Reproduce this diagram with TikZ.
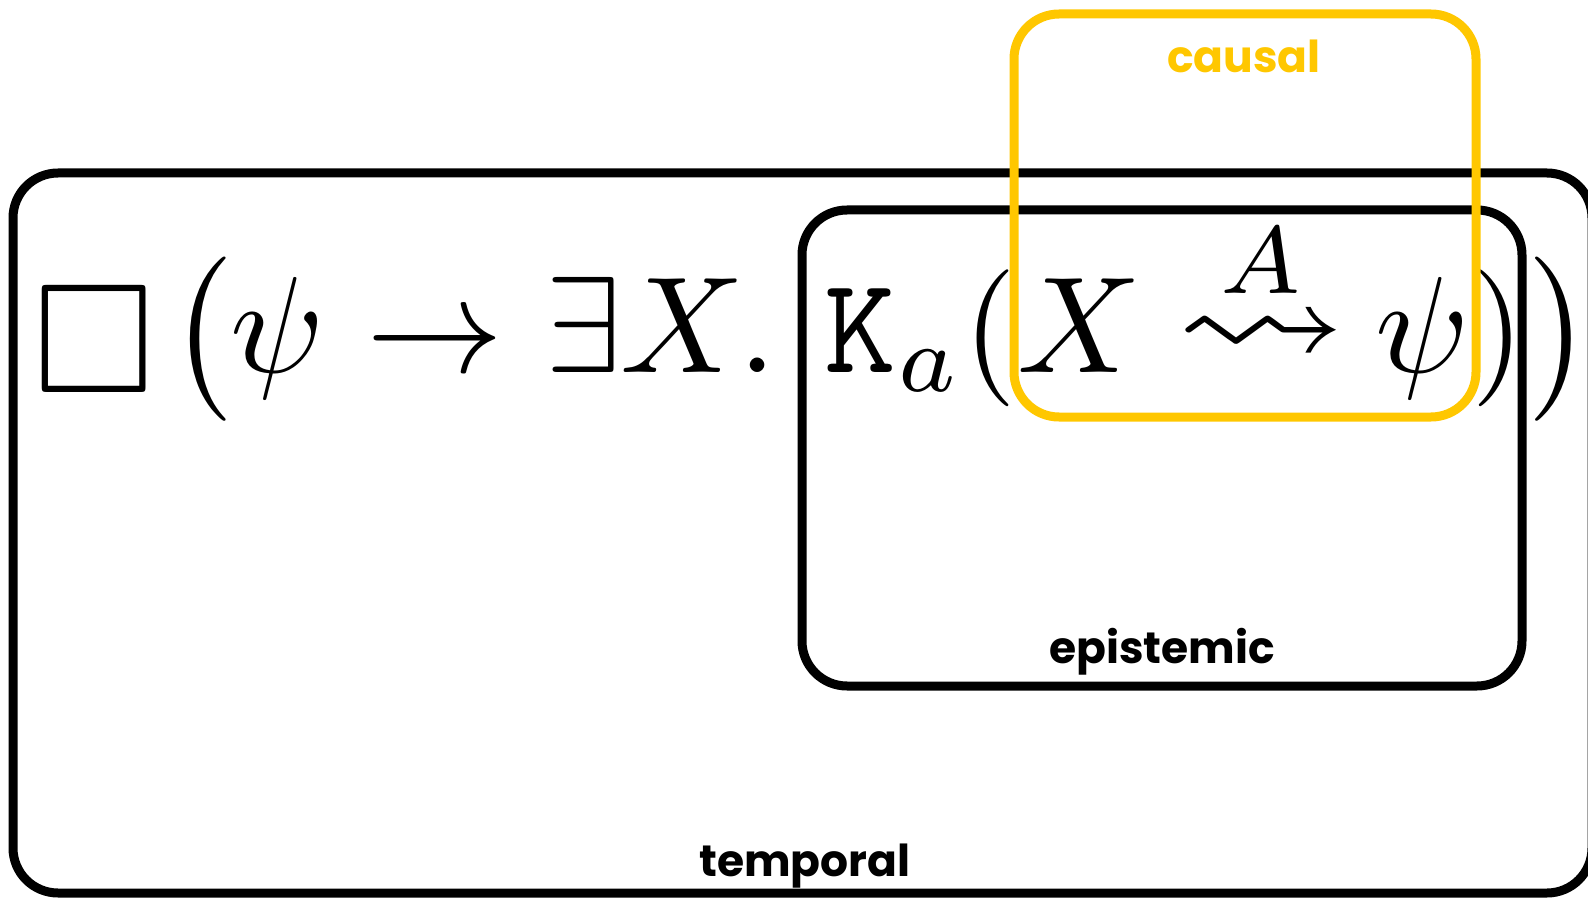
\documentclass[tikz,border=0pt]{standalone}
\usepackage{amsmath,amssymb}
\usepackage{fontspec}
\newfontfamily\labelfont{Poppins}
\definecolor{causalyellow}{RGB}{255,199,0}
\newcommand\fml[1]{\scalebox{13.7}{$#1$}}

\begin{document}
\begin{tikzpicture}[x=1pt,y=-1pt,
  frame/.style={line width=9pt,rounded corners=45pt},
  sym/.style={inner sep=0pt,anchor=base},
  tag/.style={inner sep=0pt,anchor=base,font=\labelfont\bfseries\fontsize{44}{50}\selectfont}]
\useasboundingbox (0,0) rectangle (1588,901);
% temporal and epistemic scopes
\draw[frame] (13,173) rectangle (1592,893);
\draw[frame] (802,210) rectangle (1522,686);
% the formula, piece by piece
\node[sym,anchor=center] (box) at (94,340) {\scalebox{15.6}{$\square$}};
\node[sym] (lpA) at (201,373) {\fml{\big(}};
\node[sym] (psiA) at (278,373) {\fml{\psi}};
\node[sym] (imp) at (435,373) {\fml{\rightarrow}};
\node[sym] (ex) at (584,373) {\fml{\exists}};
\node[sym] (XA) at (683,373) {\fml{X}};
\node[sym] (dot) at (758,373) {\fml{.}};
\node[sym] (K) at (860,373) {\fml{\mathtt{K}}};
\node[sym] (a) at (927,391) {\fml{\scriptstyle a}};
\node[sym] (lpB) at (990,373) {\fml{(}};
\node[sym] (XB) at (1080,373) {\fml{X}};
\node[sym] (A) at (1261,294) {\fml{\scriptstyle A}};
\node[sym] (leads) at (1261,364) {\scalebox{17}[13.7]{$\rightsquigarrow$}};
\node[sym] (psiB) at (1423,373) {\fml{\psi}};
\node[sym] (rpB) at (1498,373) {\fml{)}};
\node[sym] (rpA) at (1561,373) {\fml{\big)}};
% causal scope on top
\draw[frame,causalyellow] (1014,14) rectangle (1476,417);
% scope names
\node[tag,causalyellow] (causal) at (1244,73) {causal};
\node[tag] (epistemic) at (1162,663) {epistemic};
\node[tag] (temporal) at (805,876) {temporal};
\end{tikzpicture}
\end{document}
